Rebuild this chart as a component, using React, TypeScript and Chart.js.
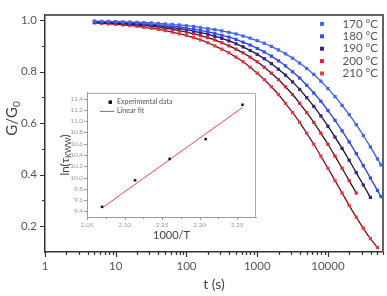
import React, { useEffect, useRef } from 'react';
import { Chart, registerables } from 'chart.js';
Chart.register(...registerables);

const FONT = "Lato, 'DejaVu Sans', sans-serif";

// ---------- main chart data ----------
const times = [5, 6.3, 7.9, 10, 12.6, 15.8, 20, 25, 32, 40, 50, 63, 79, 100, 126, 158, 200, 251, 316, 398, 501, 631, 794, 1000, 1259, 1585, 1995, 2512, 3162, 3981, 5012, 6310, 7943, 10000, 12589, 15849, 19953, 25119, 31623, 39811, 50119, 56234];

const g170 = [0.996, 0.995, 0.995, 0.994, 0.993, 0.992, 0.991, 0.990, 0.989, 0.987, 0.985, 0.983, 0.981, 0.978, 0.975, 0.971, 0.967, 0.963, 0.958, 0.952, 0.946, 0.938, 0.930, 0.920, 0.910, 0.898, 0.884, 0.869, 0.852, 0.833, 0.812, 0.789, 0.763, 0.734, 0.703, 0.669, 0.633, 0.594, 0.552, 0.508, 0.461, 0.438];
const g180 = [0.994, 0.994, 0.993, 0.992, 0.990, 0.989, 0.988, 0.986, 0.984, 0.982, 0.979, 0.976, 0.973, 0.969, 0.965, 0.960, 0.955, 0.948, 0.941, 0.934, 0.925, 0.914, 0.903, 0.890, 0.876, 0.860, 0.842, 0.822, 0.799, 0.775, 0.747, 0.717, 0.685, 0.649, 0.611, 0.570, 0.527, 0.482, 0.435, 0.387, 0.339, 0.315];
const g190 = [0.993, 0.992, 0.991, 0.990, 0.988, 0.987, 0.985, 0.983, 0.980, 0.978, 0.974, 0.971, 0.967, 0.962, 0.957, 0.951, 0.945, 0.937, 0.929, 0.919, 0.908, 0.896, 0.882, 0.867, 0.850, 0.831, 0.809, 0.786, 0.760, 0.731, 0.699, 0.665, 0.628, 0.588, 0.546, 0.502, 0.456, 0.408, 0.360, 0.312];
const g200 = [0.991, 0.990, 0.989, 0.987, 0.985, 0.983, 0.981, 0.979, 0.976, 0.972, 0.968, 0.964, 0.959, 0.953, 0.947, 0.940, 0.932, 0.923, 0.912, 0.900, 0.887, 0.873, 0.856, 0.838, 0.817, 0.794, 0.769, 0.741, 0.711, 0.677, 0.641, 0.603, 0.561, 0.518, 0.472, 0.425, 0.377, 0.329];
const g210 = [0.989, 0.987, 0.985, 0.983, 0.981, 0.979, 0.976, 0.972, 0.968, 0.964, 0.959, 0.953, 0.947, 0.940, 0.932, 0.923, 0.912, 0.900, 0.887, 0.873, 0.856, 0.838, 0.817, 0.794, 0.769, 0.741, 0.711, 0.677, 0.641, 0.603, 0.561, 0.518, 0.472, 0.425, 0.377, 0.329, 0.281, 0.235, 0.192, 0.152, 0.117];

const seriesLabels = ['170 °C', '180 °C', '190 °C', '200 °C', '210 °C'];
const seriesValues = [g170, g180, g190, g200, g210];
const markerColors = ['#4466ee', '#3350ea', '#3d2282', '#e5223e', '#f03a3a'];
const lineColors = ['#3a5ae6', '#2a40d8', '#181030', '#3a1018', '#701222'];

const xMajorTicks = [1, 10, 100, 1000, 10000];
const yMajorTicks = [0.2, 0.4, 0.6, 0.8, 1.0];
const yMinorTicks = [0.3, 0.5, 0.7, 0.9];

// ---------- inset data ----------
const invT = [2.07, 2.114, 2.16, 2.208, 2.257];
const lnTau = [9.48, 9.95, 10.33, 10.68, 11.29];
const fitX = [2.07, 2.257];
const fitY = [9.46, 11.24];
const insetXTicks = [2.05, 2.1, 2.15, 2.2, 2.25];
const insetXMinor = [2.075, 2.125, 2.175, 2.225];
const insetYTicks = [9.4, 9.6, 9.8, 10.0, 10.2, 10.4, 10.6, 10.8, 11.0, 11.2, 11.4];

function xMinorTicks(): number[] {
  const out: number[] = [];
  for (const d of [1, 10, 100, 1000, 10000]) {
    for (let m = 2; m <= 9; m++) {
      if (d * m <= 60000) out.push(d * m);
    }
  }
  return out;
}

function drawRotatedSub(ctx: CanvasRenderingContext2D, cx: number, cy: number, main: string, sub: string, tail: string, size: number, subSize: number, color: string) {
  ctx.save();
  ctx.translate(cx, cy);
  ctx.rotate(-Math.PI / 2);
  ctx.fillStyle = color;
  ctx.textBaseline = 'middle';
  ctx.textAlign = 'left';
  ctx.font = `${size}px ${FONT}`;
  const w1 = ctx.measureText(main).width;
  const w3 = ctx.measureText(tail).width;
  ctx.font = `${subSize}px ${FONT}`;
  const w2 = ctx.measureText(sub).width;
  const total = w1 + w2 + w3;
  const x0 = -total / 2;
  ctx.font = `${size}px ${FONT}`;
  ctx.fillText(main, x0, 0);
  ctx.font = `${subSize}px ${FONT}`;
  ctx.fillText(sub, x0 + w1, size * 0.3);
  ctx.font = `${size}px ${FONT}`;
  ctx.fillText(tail, x0 + w1 + w2, 0);
  ctx.restore();
}

const mainDecor = {
  id: 'mainDecor',
  afterDraw(chart: any) {
    const { ctx, chartArea: a, scales } = chart;
    const x = scales.x, y = scales.y;
    ctx.save();
    ctx.strokeStyle = '#5c6668';
    ctx.lineWidth = 2;
    ctx.beginPath();
    ctx.moveTo(a.left, a.top);
    ctx.lineTo(a.right, a.top);
    ctx.lineTo(a.right, a.bottom);
    ctx.stroke();

    ctx.strokeStyle = '#333';
    ctx.lineWidth = 1.2;
    ctx.beginPath();
    for (const v of xMajorTicks) {
      const px = Math.round(x.getPixelForValue(v)) + 0.5;
      ctx.moveTo(px, a.bottom); ctx.lineTo(px, a.bottom + 5);
    }
    for (const v of xMinorTicks()) {
      const px = Math.round(x.getPixelForValue(v)) + 0.5;
      ctx.moveTo(px, a.bottom); ctx.lineTo(px, a.bottom + 3);
    }
    for (const v of yMajorTicks) {
      const py = Math.round(y.getPixelForValue(v)) + 0.5;
      ctx.moveTo(a.left, py); ctx.lineTo(a.left - 5, py);
    }
    for (const v of yMinorTicks) {
      const py = Math.round(y.getPixelForValue(v)) + 0.5;
      ctx.moveTo(a.left, py); ctx.lineTo(a.left - 3, py);
    }
    ctx.stroke();

    // legend
    ctx.font = `11.5px ${FONT}`;
    ctx.textAlign = 'right';
    ctx.textBaseline = 'middle';
    seriesLabels.forEach((lab, i) => {
      const ly = a.top + 9 + 12.4 * i;
      ctx.fillStyle = markerColors[i];
      ctx.fillRect(a.right - 63, ly - 2, 4, 4);
      ctx.fillStyle = '#555';
      ctx.fillText(lab, a.right - 5, ly);
    });

    drawRotatedSub(ctx, 12, (a.top + a.bottom) / 2 - 15, 'G/G', '0', '', 15, 10, '#444');
    ctx.restore();
  },
};

const insetDecor = {
  id: 'insetDecor',
  afterDraw(chart: any) {
    const { ctx, chartArea: a, scales } = chart;
    const x = scales.x, y = scales.y;
    ctx.save();
    ctx.strokeStyle = '#aaa';
    ctx.lineWidth = 1;
    ctx.beginPath();
    ctx.moveTo(a.left, a.top + 0.5);
    ctx.lineTo(a.right - 0.5, a.top + 0.5);
    ctx.lineTo(a.right - 0.5, a.bottom);
    ctx.stroke();

    ctx.strokeStyle = '#999';
    ctx.beginPath();
    for (const v of insetXTicks) {
      const px = Math.round(x.getPixelForValue(v)) + 0.5;
      ctx.moveTo(px, a.bottom); ctx.lineTo(px, a.bottom + 3);
    }
    for (const v of insetXMinor) {
      const px = Math.round(x.getPixelForValue(v)) + 0.5;
      ctx.moveTo(px, a.bottom); ctx.lineTo(px, a.bottom + 2);
    }
    for (const v of insetYTicks) {
      const py = Math.round(y.getPixelForValue(v)) + 0.5;
      ctx.moveTo(a.left, py); ctx.lineTo(a.left - 3, py);
    }
    ctx.stroke();

    // legend
    ctx.font = `7px ${FONT}`;
    ctx.textAlign = 'left';
    ctx.textBaseline = 'middle';
    ctx.fillStyle = '#111';
    ctx.fillRect(a.left + 21.5, a.top + 7.5, 3.5, 3.5);
    ctx.fillStyle = '#555';
    ctx.fillText('Experimental data', a.left + 30, a.top + 9);
    ctx.strokeStyle = '#e8406a';
    ctx.lineWidth = 1;
    ctx.beginPath();
    ctx.moveTo(a.left + 13, a.top + 18.5);
    ctx.lineTo(a.left + 27, a.top + 18.5);
    ctx.stroke();
    ctx.fillText('Linear fit', a.left + 30, a.top + 18);

    drawRotatedSub(ctx, 10, (a.top + a.bottom) / 2, 'ln(τ', 'KWW', ')', 11.5, 7.5, '#444');
    ctx.restore();
  },
};

export default function App() {
  const mainRef = useRef<HTMLCanvasElement>(null);
  const insetRef = useRef<HTMLCanvasElement>(null);

  useEffect(() => {
    document.body.style.margin = '0';
    Chart.defaults.font.family = FONT;

    const datasets = seriesValues.map((vals, i) => ({
      label: seriesLabels[i],
      data: vals.map((v, k) => ({ x: times[k], y: v })),
      showLine: true,
      borderColor: lineColors[i],
      borderWidth: 1.3,
      cubicInterpolationMode: 'monotone' as const,
      pointStyle: 'rect' as const,
      pointRadius: 2.3,
      pointBorderWidth: 0,
      pointBackgroundColor: markerColors[i],
      backgroundColor: markerColors[i],
    }));

    const main = new Chart(mainRef.current!, {
      type: 'scatter',
      data: { datasets },
      plugins: [mainDecor],
      options: {
        animation: false,
        responsive: false,
        devicePixelRatio: 1,
        layout: { padding: { top: 4, right: 3, left: 0, bottom: 0 } },
        plugins: { legend: { display: false }, tooltip: { enabled: false } },
        scales: {
          x: {
            type: 'logarithmic',
            min: 1,
            max: 60000,
            afterBuildTicks: (s: any) => { s.ticks = xMajorTicks.map((v) => ({ value: v })); },
            afterFit: (s: any) => { s.height = 44; },
            grid: { display: false, drawTicks: false },
            border: { display: true, color: '#333', width: 1.5 },
            ticks: { autoSkip: false, maxRotation: 0, padding: 7, color: '#555', font: { size: 11.5 }, callback: (v: any) => String(v) },
            title: { display: true, text: 't (s)', color: '#444', font: { size: 14 }, padding: { top: 0, bottom: 3 } },
          },
          y: {
            type: 'linear',
            min: 0.1,
            max: 1.02,
            afterBuildTicks: (s: any) => { s.ticks = yMajorTicks.map((v) => ({ value: v })); },
            afterFit: (s: any) => { s.width = 45; },
            grid: { display: false, drawTicks: false },
            border: { display: true, color: '#333', width: 1.5 },
            ticks: { autoSkip: false, padding: 8, color: '#555', font: { size: 11.5 }, callback: (v: any) => Number(v).toFixed(1) },
          },
        },
      } as any,
    });

    const inset = new Chart(insetRef.current!, {
      type: 'scatter',
      data: {
        datasets: [
          {
            label: 'Experimental data',
            data: invT.map((v, i) => ({ x: v, y: lnTau[i] })),
            pointStyle: 'rect',
            pointRadius: 1.8,
            pointBorderWidth: 0,
            backgroundColor: '#111',
            pointBackgroundColor: '#111',
            showLine: false,
          },
          {
            label: 'Linear fit',
            data: fitX.map((v, i) => ({ x: v, y: fitY[i] })),
            showLine: true,
            borderColor: '#e8406a',
            borderWidth: 1,
            pointRadius: 0,
          },
        ],
      },
      plugins: [insetDecor],
      options: {
        animation: false,
        responsive: false,
        devicePixelRatio: 1,
        layout: { padding: { top: 6, right: 4, left: 0, bottom: 0 } },
        plugins: { legend: { display: false }, tooltip: { enabled: false } },
        scales: {
          x: {
            type: 'linear',
            min: 2.05,
            max: 2.275,
            afterBuildTicks: (s: any) => { s.ticks = insetXTicks.map((v) => ({ value: v })); },
            afterFit: (s: any) => { s.height = 28; },
            grid: { display: false, drawTicks: false },
            border: { display: true, color: '#999', width: 1 },
            ticks: { autoSkip: false, maxRotation: 0, padding: 4, color: '#999', font: { size: 6.5 }, callback: (v: any) => Number(v).toFixed(2) },
            title: { display: true, text: '1000/T', color: '#444', font: { size: 11 }, padding: { top: 0, bottom: 3 } },
          },
          y: {
            type: 'linear',
            min: 9.3,
            max: 11.5,
            afterBuildTicks: (s: any) => { s.ticks = insetYTicks.map((v) => ({ value: v })); },
            afterFit: (s: any) => { s.width = 32; },
            grid: { display: false, drawTicks: false },
            border: { display: true, color: '#999', width: 1 },
            ticks: { autoSkip: false, padding: 4, color: '#999', font: { size: 6.5 }, callback: (v: any) => Number(v).toFixed(1) },
          },
        },
      } as any,
    });

    return () => {
      main.destroy();
      inset.destroy();
    };
  }, []);

  return (
    <div style={{ position: 'relative', width: 387, height: 296, background: '#fff' }}>
      <canvas ref={mainRef} width={387} height={296} style={{ position: 'absolute', left: 0, top: 0, display: 'block' }} />
      <canvas ref={insetRef} width={205} height={160} style={{ position: 'absolute', left: 55, top: 85, display: 'block' }} />
    </div>
  );
}
